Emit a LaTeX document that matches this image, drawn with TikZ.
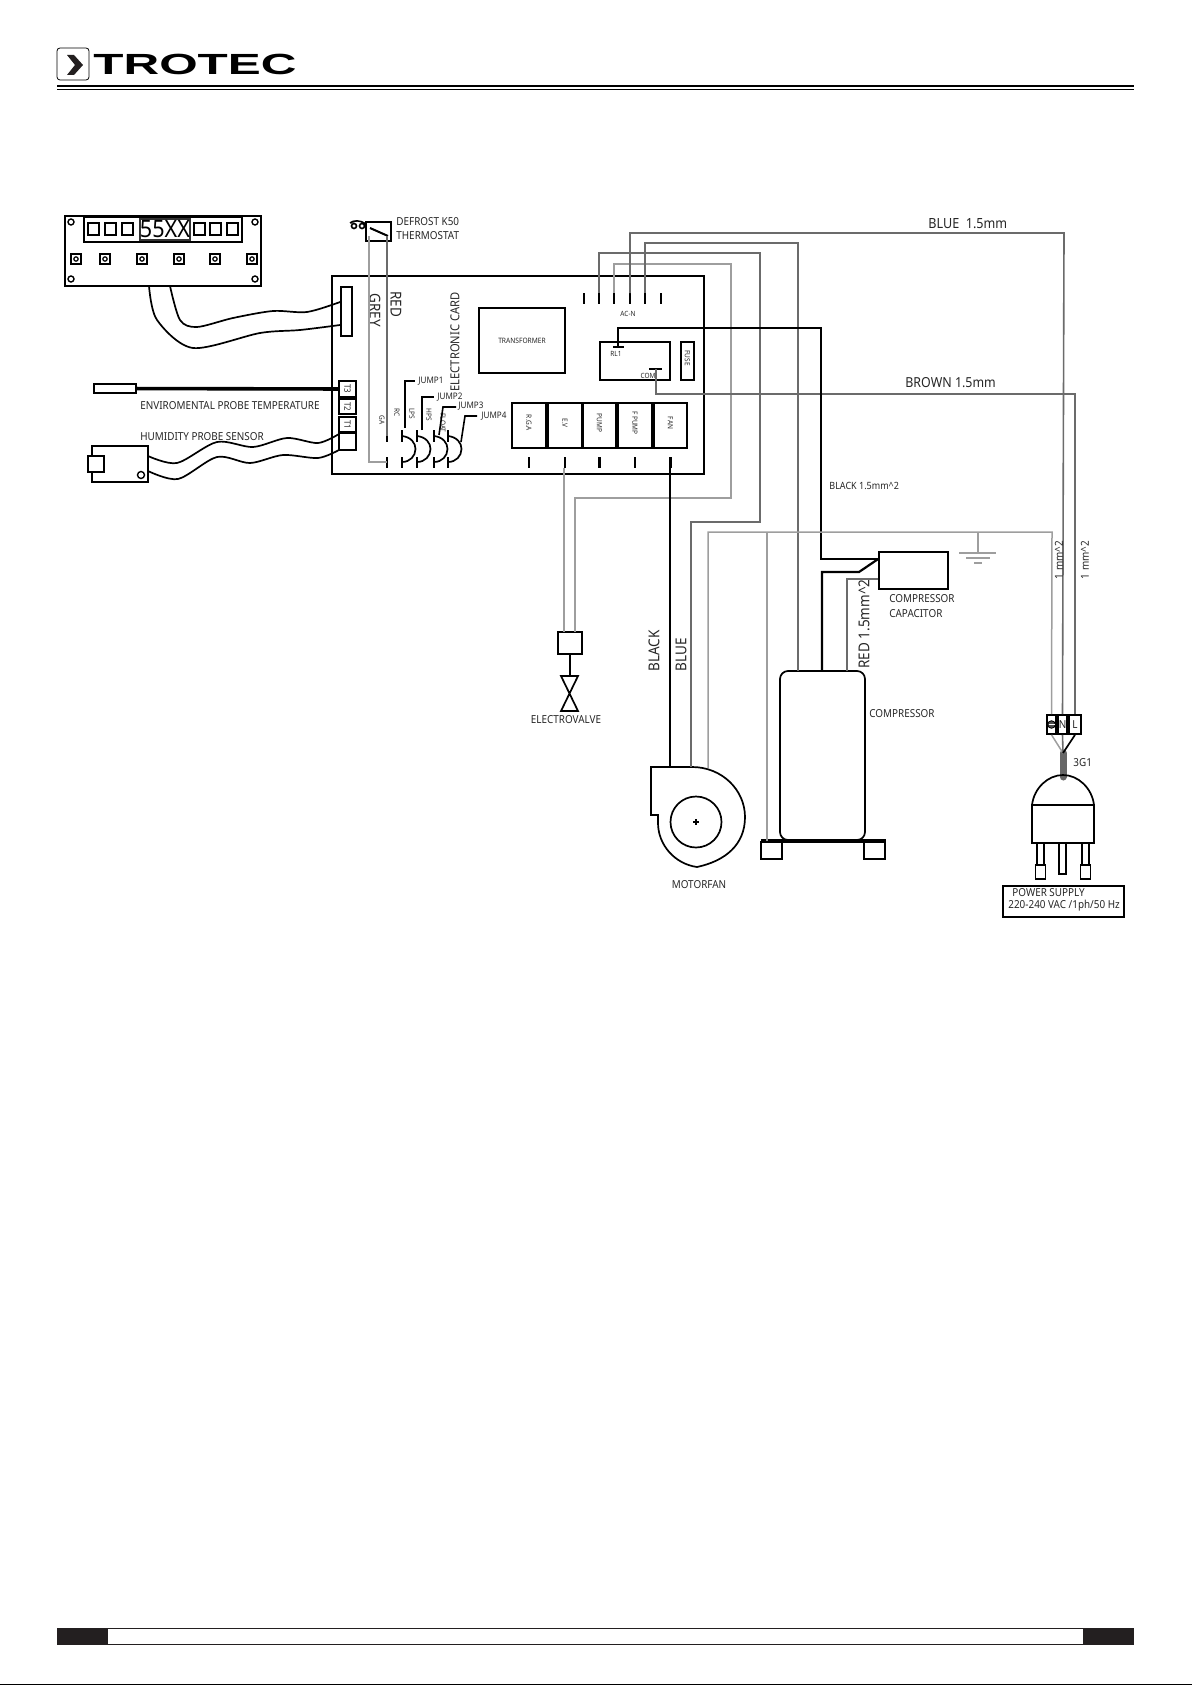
\documentclass[tikz,border=0pt]{standalone}
\usepackage{fontspec}
\setmainfont[FakeStretch=0.9]{Noto Sans}
\newfontfamily\logofont{Liberation Sans}
\usetikzlibrary{positioning,calc}
\definecolor{wireblue}{gray}{0.42}
\definecolor{wirelight}{gray}{0.62}
\definecolor{barblack}{HTML}{231F20}
\begin{document}
\begin{tikzpicture}[
      x=0.5pt,y=-0.5pt,
      line join=miter,
      part/.style={draw=black,line width=0.85pt,inner sep=0pt,rectangle},
      term/.style={line width=1.1pt,draw=black},
      wire/.style={line width=0.8pt,draw=wireblue},
      wirel/.style={line width=0.75pt,draw=wirelight},
      wirek/.style={line width=0.85pt,draw=black},
      lab/.style={font=\fontsize{5.5}{6}\selectfont,inner sep=0pt,text=black!85},
      tiny/.style={font=\fontsize{3.6}{4}\selectfont,inner sep=0pt,text=black!85},
      big/.style={font=\fontsize{7.5}{8}\selectfont,inner sep=0pt,text=black!85},
      down/.style={rotate=-90},
      up/.style={rotate=90},
    ]
    \useasboundingbox (0,0) rectangle (1192,1685);

    % header
    \node (logobox) [draw=black,line width=0.4pt,rounded corners=1.5pt,minimum width=16pt,minimum height=16pt,inner sep=0pt] at (73,64) {};
    \fill[barblack] (67,55) -- (74,55) -- (83,65) -- (74,75) -- (67,75) -- (75,65) -- cycle;
    \node (logotext) [inner sep=0pt,anchor=center] at (195,64.5) {\logofont\bfseries\scalebox{1.83}[1.08]{\fontsize{13.5}{14}\selectfont TROTEC}};
    \coordinate (headl) at (57,86);
    \coordinate (headr) at (1134,86);
    \draw[line width=1pt] (headl) -- (headr);
    \draw[line width=0.4pt] (57,89.5) -- (1134,89.5);

    % display panel
    \draw[part] (65,216) rectangle (261,286);
    \draw[line width=0.6pt] (84,217) rectangle (242,242);
    \node (disp) [draw=black!80,line width=0.7pt,minimum width=25pt,minimum height=10.5pt,inner sep=0pt,font=\fontsize{12}{12}\selectfont] at (165,229.5) {55XX};
    \foreach \xa in {88,105,122,194,210,227}
      \draw[line width=0.7pt] (\xa,223) rectangle ++(11,12);
    \foreach \xa/\ya in {71/222,255/222,71/279,255/279}
      \draw[line width=0.7pt] (\xa,\ya) circle (3);
    \foreach \xa in {76,105,142,179,215,252} {
      \draw[line width=0.7pt] (\xa-5,254) rectangle (\xa+5,264);
      \draw[line width=0.6pt] (\xa,259) circle (2.2);
    }
    \coordinate (panelA) at (149,286);
    \coordinate (panelB) at (170,286);
    \node (conn) [part,minimum width=5.5pt,minimum height=24.5pt] at (346.5,311.5) {};
    \draw[wirek,smooth] plot coordinates {(panelA) (157,320) (193,348) (260,333) (300,330) (conn.west |- 0,325)};
    \draw[wirek] plot[smooth] coordinates {(panelB) (180,320) (197,327) (233,318) (273,311) (307,312) (conn.west |- 0,302)};

    % thermostat
    \node (thermo) [part,minimum width=12.5pt,minimum height=9.5pt] at (378.5,231.5) {};
    \draw[line width=1pt] (370,228) -- (388,236);
    \draw[line width=0.8pt] (362,226) circle (2.5) (354,226) circle (2.5) (350,223) .. controls (354,220) and (360,220) .. (366,224);
    \node (defrostA) [lab,anchor=west] at (396,222) {DEFROST K50};
    \node (defrostB) [lab,anchor=west] at (396,236) {THERMOSTAT};

    % electronic card
    \node (card) [part,minimum width=186pt,minimum height=99pt] at (518,375) {};
    \node (cardlab) [font=\fontsize{6.2}{7}\selectfont,inner sep=0pt,text=black!85,up] at (455,342) {ELECTRONIC CARD};
    \node (greylab) [big,down] at (375,310) {GREY};
    \node (redlab) [big,down] at (396,304) {RED};
    \node (trafo) [part,minimum width=43pt,minimum height=32.5pt,font=\fontsize{3.7}{4}\selectfont,text=black!85] at (522,340.5) {TRANSFORMER};
    \foreach \xa/\nm in {584/a,599/b,614/c,630/d,645/e,661/f} {
      \coordinate (top\nm) at (\xa,293);
      \draw[term] (\xa,293) -- (\xa,304);
    }
    \node (acn) [tiny] at (628,314) {AC-N};
    \node (relay) [part,minimum width=35pt,minimum height=19pt] at (635,361) {};
    \node (fuse) [part,minimum width=6.5pt,minimum height=19pt] at (687.5,361) {};
    \node (fuselab) [tiny,down] at (687.5,358) {FUSE};
    \coordinate (rlbar) at (618,347);
    \coordinate (combar) at (656,369);
    \draw[term] (613,347) -- (624,347);
    \draw[term] (649,369) -- (662,369);
    \node (rllab) [tiny] at (616,354) {RL1};
    \node (comlab) [tiny] at (648,376) {COM};

    % relays and stubs
    \foreach \xa/\wa/\nm/\tx in {529/17/rga/R.G.A,565/17/ev/E.V,599.5/16.5/pump/PUMP,635/17/fpump/F PUMP,670.5/16.5/fan/FAN} {
      \node (\nm) [part,minimum width=\wa pt,minimum height=22.5pt] at (\xa,425.5) {};
      \node (\nm lab) [tiny,down] at (\xa,423) {\tx};
      \draw[term] (\xa,457) -- (\xa,468);
    }

    % sensor terminals
    \node (t3) [part,minimum width=8.5pt,minimum height=8pt] at (347.5,389) {};
    \node (t2) [part,minimum width=8.5pt,minimum height=7.5pt] at (347.5,406.5) {};
    \node (t1) [part,minimum width=8.5pt,minimum height=7.5pt] at (347.5,424.5) {};
    \node (t0) [part,minimum width=8.5pt,minimum height=8.5pt] at (347.5,441.5) {};
    \draw[line width=1.6pt] (t0.north west) -- (t0.north east);
    \foreach \nm/\tx in {t3/T3,t2/T2,t1/T1}
      \node [tiny,down,font=\fontsize{4.4}{5}\selectfont] at (\nm) {\tx};
    \node (probe) [part,minimum width=21pt,minimum height=4.5pt] at (115,388.5) {};
    \draw[line width=1.8pt] (probe) -- (t3);
    \node (envlab) [lab,anchor=west] at (140,406) {ENVIROMENTAL PROBE TEMPERATURE};
    \node (humlab) [lab,anchor=west] at (140,437) {HUMIDITY PROBE SENSOR};
    \node (humid) [part,minimum width=28pt,minimum height=18pt] at (120,464) {};
    \node (humbox) [part,fill=white,minimum width=8pt,minimum height=8pt] at (96,464) {};
    \draw[line width=0.7pt] (141,475) circle (3.5);
    \draw[wirek] plot[smooth] coordinates {(148,456) (177,463) (217,442) (253,447) (287,438) (318,443) (339,434)};
    \draw[wirek] plot[smooth] coordinates {(148,471) (178,479) (217,457) (250,463) (283,455) (318,458) (339,450)};

    % jumpers
    \foreach \xa/\nm/\tx/\ya in {387/ga/GA/420,402/rc/RC/413,417/lps/LPS/414,434/hps/HPS/415,448/flt/FLOAT/423} {
      \draw[term] (\xa,430) -- (\xa,442);
      \draw[term] (\xa,457) -- (\xa,468);
      \coordinate (\nm up) at (\xa,436);
      \coordinate (\nm lo) at (\xa,462);
      \node (\nm lab) [tiny,down] at (\xa-5,\ya) {\tx};
    }
    \foreach \xa in {402,417,434,448}
      \draw[line width=0.85pt] (\xa,436) .. controls (\xa+9,437) and (\xa+13.5,443) .. (\xa+13.5,449) .. controls (\xa+13.5,456) and (\xa+8,462) .. (\xa,462);
    \draw[line width=0.8pt] (405,428) -- (405,381) -- (415,381);
    \draw[line width=0.8pt] (422,430) -- (422,397) -- (434,397);
    \draw[line width=0.8pt] (439,435) -- (443,407) -- (456,407);
    \draw[line width=0.8pt] (461,442) -- (465,416) -- (477,416);
    \node (jumpA) [lab,anchor=west,font=\fontsize{4.5}{5}\selectfont] at (418,381) {JUMP1};
    \node (jumpB) [lab,anchor=west,font=\fontsize{4.5}{5}\selectfont] at (437,397) {JUMP2};
    \node (jumpC) [lab,anchor=west,font=\fontsize{4.5}{5}\selectfont] at (458,406) {JUMP3};
    \node (jumpD) [lab,anchor=west,font=\fontsize{4.5}{5}\selectfont] at (481,416) {JUMP4};

    % thermostat wires
    \draw[wirel] (369,236) -- (369,462) -- (gaup |- 0,462);
    \draw[wire] (387,236) -- (gaup);

    % electrovalve
    \node (evbox) [part,minimum width=12pt,minimum height=11pt] at (570,643) {};
    \coordinate (valve) at (570,693.5);
    \draw[part] (evbox.south) -- (570,676);
    \draw[part] (561,676) -- (578,676) -- (561,711) -- (578,711) -- cycle;
    \node (evlab) [lab] at (566,720) {ELECTROVALVE};

    % motor fan
    \draw[part] (651,767) -- (692,767) .. controls (722,767) and (745,790) .. (745,817) .. controls (745,845) and (725,861) .. (697,867) .. controls (675,864) and (658,845) .. (658,823) -- (658,815) -- (651,815) -- cycle;
    \node (impel) [part,circle,minimum size=25.5pt] at (696,822) {};
    \draw[line width=0.6pt] (693,822) -- (699,822) (696,819) -- (696,825);
    \node (motlab) [lab] at (699,885) {MOTORFAN};

    % compressor
    \node (comp) [part,rounded corners=4pt,minimum width=42.5pt,minimum height=84.5pt] at (822.5,755.5) {};
    \draw[line width=1.8pt] (761,841) -- (886,841);
    \node (footl) [part,minimum width=10.5pt,minimum height=8.5pt] at (771.5,850.5) {};
    \node (footr) [part,minimum width=10.5pt,minimum height=8.5pt] at (874.5,850.5) {};
    \node (complab) [lab,anchor=west] at (869,714) {COMPRESSOR};

    % capacitor
    \node (cap) [part,minimum width=34.5pt,minimum height=18.5pt] at (913.5,570.5) {};
    \node (capa) [lab,anchor=west] at (889,599) {COMPRESSOR};
    \node (capb) [lab,anchor=west] at (889,614) {CAPACITOR};

    % ground
    \coordinate (gnd) at (978,553);
    \draw[wirel] (gnd) -- (978,532);
    \draw[wirel] (959,553) -- (996,553) (966,558) -- (990,558) (974,563) -- (982,563);

    % mains plug
    \node (tearth) [part,minimum width=4.5pt,minimum height=9.5pt] at (1051.5,724.5) {};
    \node (tn) [part,minimum width=4.5pt,minimum height=9.5pt,lab] at (1062.5,724.5) {N};
    \node (tl) [part,minimum width=6pt,minimum height=9.5pt,lab] at (1075,724.5) {L};
    \draw[fill=black!70,line width=0.4pt] (tearth.center) circle (3.8);
    \draw[white,line width=0.3pt] (1048.5,724.5) -- (1054.5,724.5);
    \coordinate (cabtop) at (1063,753);
    \coordinate (cabbot) at (1063,777);
    \draw[line width=3.5pt,draw=black!60,line cap=round] (cabtop) -- (cabbot);
    \draw[wirel] (tearth.south) -- (cabtop);
    \draw[wire] (tn.south) -- (cabtop);
    \draw[wirek] (tl.south) -- (cabtop);
    \node (cablab) [lab,anchor=west] at (1073,763) {3G1};
    \draw[part] (1032,805) .. controls (1034,788) and (1048,775) .. (1063,775) .. controls (1078,775) and (1092,788) .. (1094,805);
    \node (plug) [part,minimum width=31pt,minimum height=19pt] at (1063,824) {};
    \foreach \xa in {1040.5,1085.5} {
      \draw[part] (\xa-3.5,843) rectangle (\xa+3.5,865);
      \draw[part] (\xa-5,865) rectangle (\xa+5,879);
    }
    \draw[part] (1059,843) -- (1059,874) -- (1066,874) -- (1066,843);
    \node (psu) [part,minimum width=60.5pt,minimum height=15.5pt] at (1063.5,901.5) {};
    \node (psua) [lab,anchor=west] at (1012,893) {POWER SUPPLY};
    \node (psub) [lab,anchor=west] at (1008,906) {220-240 VAC /1ph/50 Hz};

    % long wires
    \draw[wire] (topb) -- (599,253) -- (760,253) -- (760,522) -- (691,522) -- (691,767);
    \draw[wirel] (topc) -- (614,264) -- (731,264) -- (731,498) -- (575,498) -- (575,632);
    \draw[wire] (topd) -- (630,233) -- (1064,233) -- (tn.north);
    \draw[wire] (tope) -- (645,243) -- (798,243) -- (798,671);
    \draw[wire] (combar) -- (656,394) -- (1075,394) -- (tl.north);
    \draw[wirek,line width=1.1pt] (rlbar) -- (618,328) -- (821,328) -- (821,559) -- (cap.west |- 0,559);
    \draw[wirek,line width=1.1pt] (822,671) -- (822,572) -- (859,572) -- (cap.west |- 0,559);
    \draw[wire] (847,671) -- (847,579) -- (cap.west |- 0,579);
    \draw[wirek,line width=1pt] (670,468) -- (670,767);
    \draw[wirel] (564,468) -- (564,632);
    \draw[wirel] (708,768) -- (708,532) -- (1052,532) -- (tearth.north);
    \draw[wirel] (767,532) -- (767,841);

    % wire labels
    \node (bluelab) [lab,font=\fontsize{7}{7}\selectfont,anchor=west] at (928,224) {BLUE\ \ 1.5mm};
    \node (brownlab) [lab,font=\fontsize{6.9}{7}\selectfont,anchor=west] at (905,383) {BROWN 1.5mm};
    \node (blacklab) [lab,anchor=west,font=\fontsize{5}{5}\selectfont] at (829,486) {BLACK 1.5mm\textasciicircum 2};
    \node (redmm) [big,up] at (864,624) {RED 1.5mm\textasciicircum 2};
    \node (mma) [lab,up] at (1059,560) {1 mm\textasciicircum 2};
    \node (mmb) [lab,up] at (1085,560) {1 mm\textasciicircum 2};
    \node (blackv) [big,up] at (654,651) {BLACK};
    \node (bluev) [big,up] at (681,655) {BLUE};

    % footer
    \fill[barblack] (57,1628) rectangle (1134,1645);
    \fill[white] (107.5,1629) rectangle (1083,1644);
    \fill[black] (0,1683.5) rectangle (1192,1685);
\end{tikzpicture}
\end{document}
